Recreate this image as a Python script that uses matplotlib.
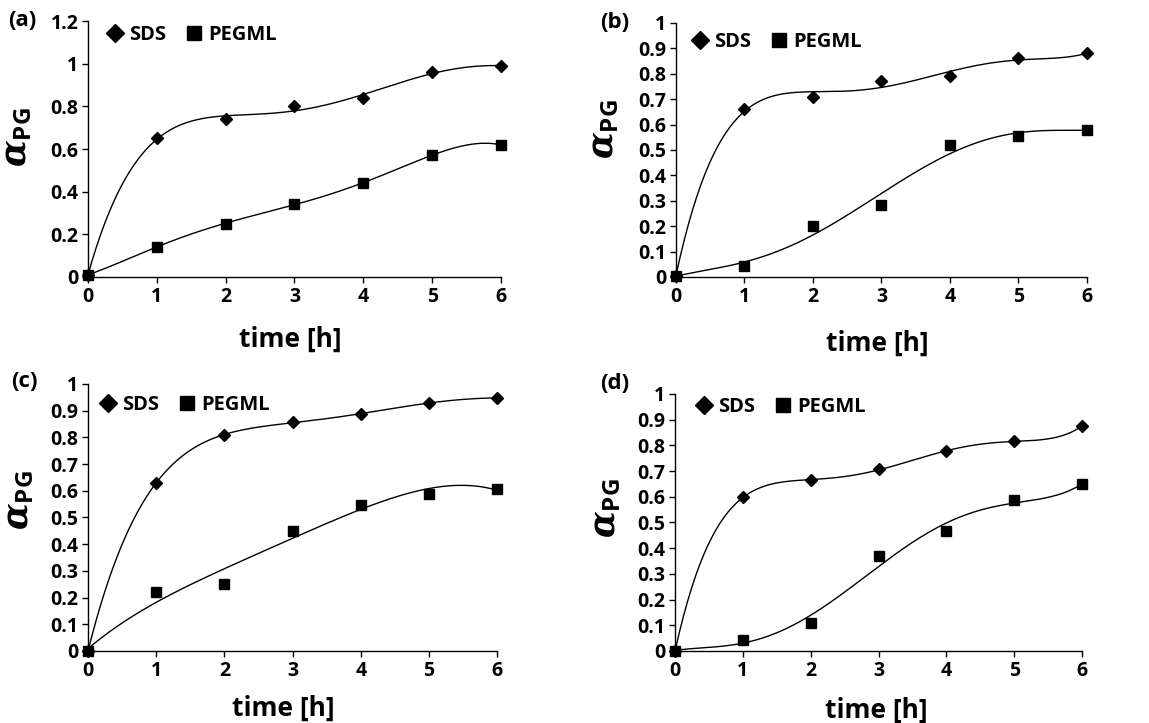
import numpy as np
import matplotlib
matplotlib.use("Agg")
import matplotlib.pyplot as plt
from matplotlib.ticker import FormatStrFormatter

# 폰트 설정 (Calibri 비슷한 굵은 글씨)
plt.rcParams["font.family"] = ["Open Sans", "DejaVu Sans"]
plt.rcParams["font.weight"] = "bold"
plt.rcParams["mathtext.fontset"] = "custom"
plt.rcParams["mathtext.rm"] = "DejaVu Serif:bold"
plt.rcParams["mathtext.it"] = "DejaVu Serif:bold:italic"
plt.rcParams["mathtext.bf"] = "Open Sans:bold"

# ----- 데이터 -----
time_h = [0, 1, 2, 3, 4, 5, 6]

sds_a = [0.01, 0.652, 0.74, 0.80, 0.84, 0.96, 0.99]
peg_a = [0.01, 0.142, 0.25, 0.342, 0.44, 0.572, 0.619]

sds_b = [0.005, 0.66, 0.71, 0.772, 0.79, 0.862, 0.88]
peg_b = [0.005, 0.045, 0.20, 0.283, 0.52, 0.554, 0.58]

sds_c = [0.0, 0.63, 0.81, 0.856, 0.888, 0.929, 0.948]
peg_c = [0.0, 0.22, 0.25, 0.451, 0.545, 0.588, 0.608]

sds_d = [0.0, 0.598, 0.665, 0.707, 0.777, 0.816, 0.875]
peg_d = [0.0, 0.043, 0.108, 0.37, 0.467, 0.588, 0.648]

panel_names = ["(a)", "(b)", "(c)", "(d)"]
sds_all = [sds_a, sds_b, sds_c, sds_d]
peg_all = [peg_a, peg_b, peg_c, peg_d]
y_max = [1.2, 1.0, 1.0, 1.0]
y_step = [0.2, 0.1, 0.1, 0.1]
# 다항 추세선 차수 [SDS, PEGML]
trend_deg = [[5, 5], [5, 5], [5, 4], [5, 5]]

# ----- 레이아웃 (figure 비율) -----
axes_pos = [
    [0.0766, 0.6169, 0.3594, 0.3540],
    [0.5883, 0.6169, 0.3577, 0.3513],
    [0.0766, 0.0996, 0.3560, 0.3693],
    [0.5875, 0.0996, 0.3542, 0.3555],
]
legend_anchor = [(0.021, 1.022), (0.014, 1.004), (0.005, 0.997), (0.027, 1.027)]
ylabel_xy = [(-0.13, 0.547), (-0.133, 0.58), (-0.127, 0.565), (-0.127, 0.556)]
xlabel_xy = [(0.49, -0.19), (0.49, -0.207), (0.477, -0.165), (0.494, -0.18)]
tag_xy = [(0.019, 0.971), (0.535, 0.969), (0.021, 0.473), (0.535, 0.470)]

fig = plt.figure(figsize=(11.49, 7.23), dpi=100)

for i in range(4):
    ax = fig.add_axes(axes_pos[i])
    x = np.array(time_h, dtype=float)
    xs = np.linspace(0, 6, 200)

    # 추세선 + 점
    series = [(sds_all[i], "D", 6.5, "SDS"), (peg_all[i], "s", 7.5, "PEGML")]
    for k, (ys, mk, ms, lab) in enumerate(series):
        coef = np.polyfit(x, ys, trend_deg[i][k])
        ax.plot(xs, np.polyval(coef, xs), color="black", lw=1.0, clip_on=False)
        ax.plot(x, ys, linestyle="none", marker=mk, markersize=ms, color="black",
                label=lab, clip_on=False, zorder=3)

    ax.set_xlim(0, 6)
    ax.set_ylim(0, y_max[i])
    ax.set_xticks(range(7))
    ax.set_yticks(np.arange(0, y_max[i] + 1e-9, y_step[i]))
    ax.yaxis.set_major_formatter(FormatStrFormatter("%g"))
    ax.tick_params(direction="out", length=4, width=1, labelsize=14, pad=3)

    ax.spines["top"].set_visible(False)
    ax.spines["right"].set_visible(False)
    ax.spines["left"].set_linewidth(1)
    ax.spines["bottom"].set_linewidth(1)

    ax.set_xlabel("time [h]", fontsize=19, fontweight="bold", va="top")
    ax.xaxis.set_label_coords(*xlabel_xy[i])
    ax.set_ylabel(r"$\alpha_{\mathbf{PG}}$", fontsize=25)
    ax.yaxis.set_label_coords(*ylabel_xy[i])

    ax.legend(loc="upper left", bbox_to_anchor=legend_anchor[i], frameon=False, ncol=2,
              borderpad=0, handlelength=0.8, handletextpad=0.3, columnspacing=1.0,
              markerscale=1.4, prop={"size": 14.5, "weight": "bold"})

    fig.text(tag_xy[i][0], tag_xy[i][1], panel_names[i], fontsize=16, fontweight="bold",
             ha="center", va="center")

fig.savefig("out.png", dpi=100)
